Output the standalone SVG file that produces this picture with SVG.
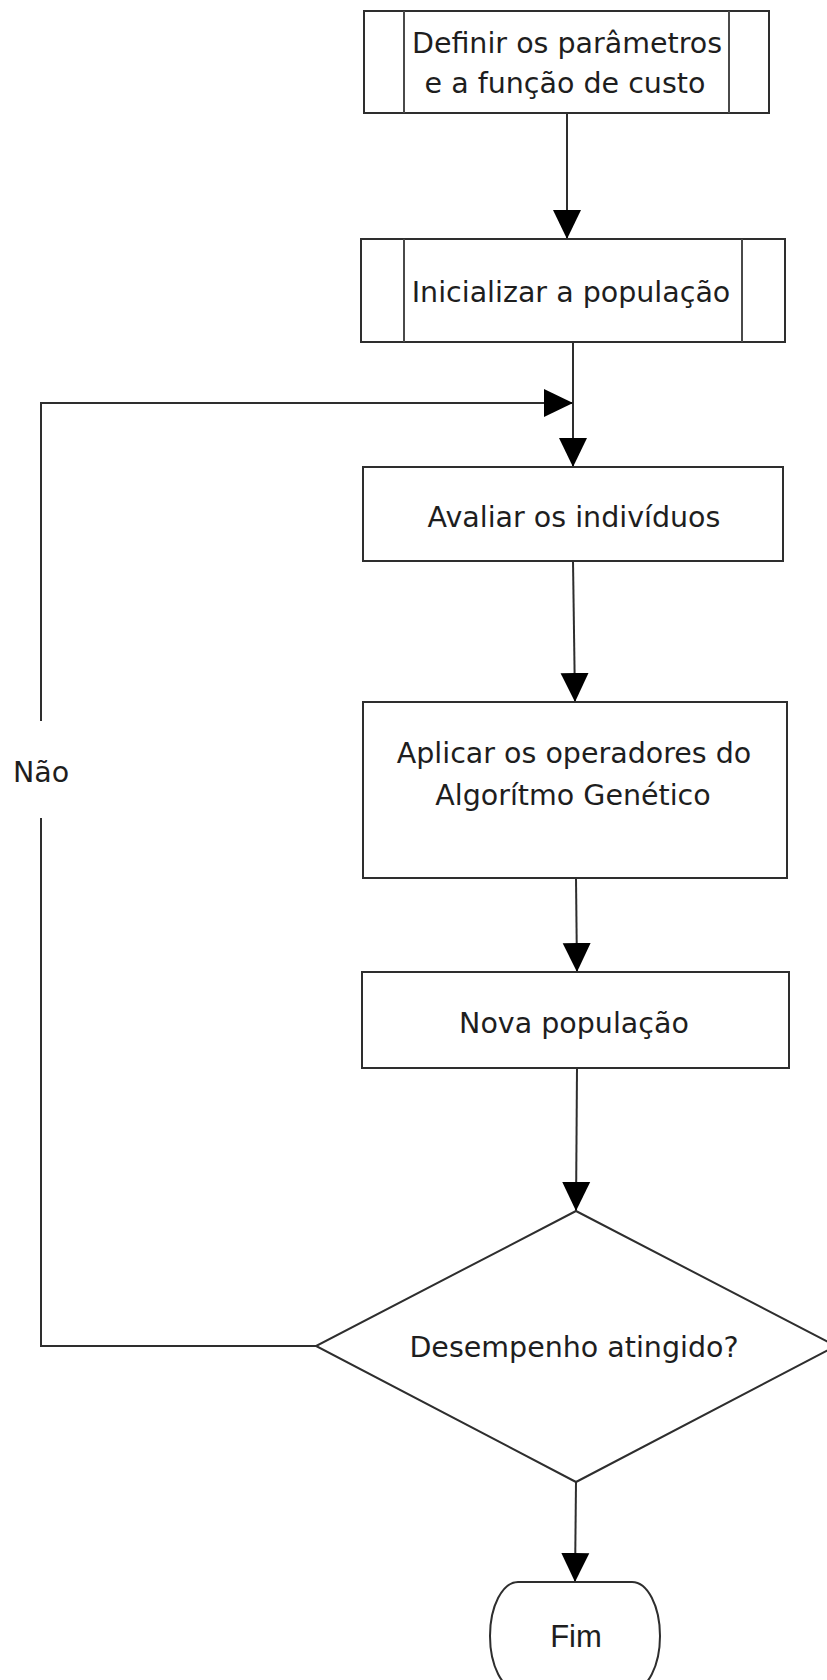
<svg xmlns="http://www.w3.org/2000/svg" width="827" height="1680" viewBox="0 0 827 1680">
  <style>
    .shape { fill: #ffffff; stroke: #2e2e2e; stroke-width: 2; }
    .inner { fill: none; stroke: #4a4a4a; stroke-width: 2; }
    .edge { fill: none; stroke: #2e2e2e; stroke-width: 2; }
    .label { font-family: "DejaVu Sans", "Noto Sans", sans-serif; font-size: 28.5px; fill: #1e1e1e; text-anchor: middle; }
    .term { font-family: "Liberation Sans", Arial, sans-serif; font-size: 31px; fill: #1e1e1e; text-anchor: middle; }
  </style>
  <defs>
    <marker id="arrow" markerUnits="userSpaceOnUse" markerWidth="30" markerHeight="30" viewBox="0 0 30 28" refX="29" refY="14" orient="auto">
      <path d="M0,0 L29,14 L0,28 z" fill="#000000"/>
    </marker>
  </defs>
  <rect width="827" height="1680" fill="#ffffff"/>

  <!-- connectors -->
  <g id="connectors">
    <line class="edge" x1="567" y1="113" x2="567" y2="239" marker-end="url(#arrow)"/>
    <line class="edge" x1="573" y1="342" x2="573" y2="467" marker-end="url(#arrow)"/>
    <line class="edge" x1="573" y1="561" x2="575" y2="702" marker-end="url(#arrow)"/>
    <line class="edge" x1="576" y1="878" x2="577" y2="972" marker-end="url(#arrow)"/>
    <line class="edge" x1="577" y1="1068" x2="576" y2="1211" marker-end="url(#arrow)"/>
    <line class="edge" x1="576" y1="1482" x2="575" y2="1582" marker-end="url(#arrow)"/>
    <!-- "Não" loop back to the evaluation step -->
    <polyline class="edge" points="316,1346 41,1346 41,818"/>
    <polyline class="edge" points="41,721 41,403 573,403" marker-end="url(#arrow)"/>
    <text class="label" x="41" y="782">Não</text>
  </g>

  <g id="definir">
    <rect class="shape" x="364" y="11" width="405" height="102"/>
    <line class="inner" x1="404" y1="11" x2="404" y2="113"/>
    <line class="inner" x1="729" y1="11" x2="729" y2="113"/>
    <text class="label" x="567" y="53">Definir os parâmetros</text>
    <text class="label" x="565" y="93">e a função de custo</text>
  </g>

  <g id="inicializar">
    <rect class="shape" x="361" y="239" width="424" height="103"/>
    <line class="inner" x1="404" y1="239" x2="404" y2="342"/>
    <line class="inner" x1="742" y1="239" x2="742" y2="342"/>
    <text class="label" x="571" y="302">Inicializar a população</text>
  </g>

  <g id="avaliar">
    <rect class="shape" x="363" y="467" width="420" height="94"/>
    <text class="label" x="574" y="527">Avaliar os indivíduos</text>
  </g>

  <g id="operadores">
    <rect class="shape" x="363" y="702" width="424" height="176"/>
    <text class="label" x="574" y="763">Aplicar os operadores do</text>
    <text class="label" x="573" y="805">Algorítmo Genético</text>
  </g>

  <g id="nova">
    <rect class="shape" x="362" y="972" width="427" height="96"/>
    <text class="label" x="574" y="1033">Nova população</text>
  </g>

  <g id="desempenho">
    <polygon class="shape" points="576,1211 836,1346 576,1482 316,1346"/>
    <text class="label" x="574" y="1357">Desempenho atingido?</text>
  </g>

  <g id="fim">
    <rect class="shape" x="490" y="1582" width="170" height="108" rx="28" ry="54"/>
    <text class="term" x="576" y="1647">Fim</text>
  </g>
</svg>
